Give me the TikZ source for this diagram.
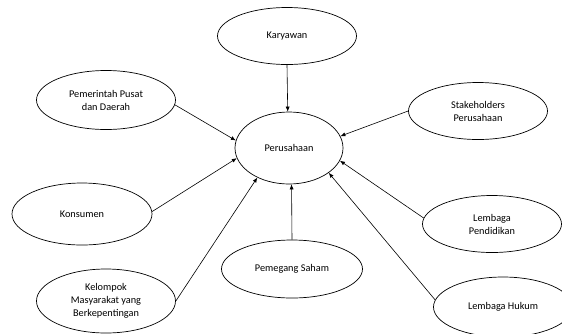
\documentclass[tikz,border=0pt]{standalone}
\usepackage{fontspec}
\setmainfont{Carlito}
\usepackage{tikz}
\usetikzlibrary{shapes.geometric,arrows.meta}

\begin{document}
\begin{tikzpicture}[
    x=1pt,y=-1pt,
    font=\fontsize{10.3}{13}\selectfont,
    pihak/.style={draw,ellipse,line width=0.7pt,align=center,inner sep=0pt,minimum width=139pt,minimum height=57pt},
    pusat/.style={draw,ellipse,line width=0.7pt,align=center,inner sep=0pt,minimum width=108pt,minimum height=72pt},
    arr/.style={-{Latex[length=5pt,width=4pt]},line width=0.6pt}
  ]
    \useasboundingbox (0,0) rectangle (562,333);

    \node[pusat] (perusahaan) at (289,148) {Perusahaan};

    \node[pihak] (karyawan) at (287,36) {Karyawan};
    \node[pihak,minimum height=59pt] (pemerintah) at (106,100) {Pemerintah Pusat\\dan Daerah};
    \node[pihak] (stakeholders) at (478,111) {Stakeholders\\Perusahaan};
    \node[pihak,minimum width=140pt,minimum height=62pt] (konsumen) at (82,214) {Konsumen};
    \node[pihak,minimum height=64pt] (kelompok) at (106,301) {Kelompok\\Masyarakat yang\\Berkepentingan};
    \node[pihak,minimum width=141pt,minimum height=58pt] (pemegang) at (292,269) {Pemegang Saham};
    \node[pihak] (pendidikan) at (492,224) {Lembaga\\Pendidikan};
    \node[pihak,minimum height=60pt] (hukum) at (503,307) {Lembaga Hukum};

    \draw[arr] (karyawan.south) -- (perusahaan.92);
    \draw[arr] (pemerintah.356) -- (perusahaan.172);
    \draw[arr] (stakeholders.west) -- (perusahaan.13);
    \draw[arr] (konsumen.2) -- (perusahaan.191);
    \draw[arr] (kelompok.east) -- (perusahaan.223);
    \draw[arr] (pemegang.north) -- (perusahaan.274);
    \draw[arr] (pendidikan.175) -- (perusahaan.346);
    \draw[arr] (hukum.174) -- (perusahaan.328);
  \end{tikzpicture}
\end{document}
